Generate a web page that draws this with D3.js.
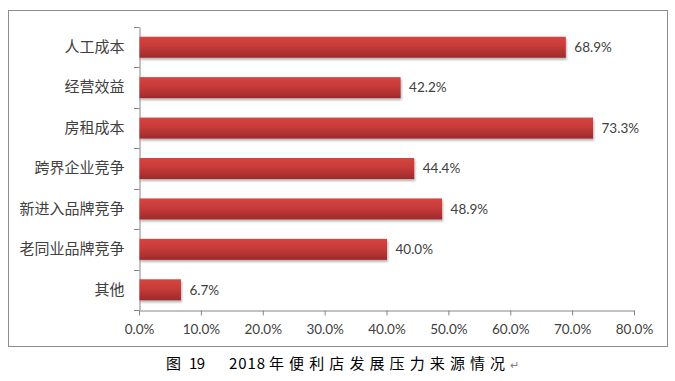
<!DOCTYPE html>
<html>
<head>
<meta charset="utf-8">
<script src="https://cdn.jsdelivr.net/npm/d3@7"></script>
<style>
  body { margin: 0; background: #fff; }
</style>
</head>
<body>
<svg id="chart" width="675" height="381"></svg>
<script>
// data
const categories = ["人工成本", "经营效益", "房租成本", "跨界企业竞争", "新进入品牌竞争", "老同业品牌竞争", "其他"];
const values = [68.9, 42.2, 73.3, 44.4, 48.9, 40.0, 6.7];
const xTicks = [0, 10, 20, 30, 40, 50, 60, 70, 80];
const captionParts = ["图", "19", "2018", "年便利店发展压力来源情况"];

const svg = d3.select("#chart");

// outer frame
svg.append("rect")
  .attr("x", 8.5).attr("y", 10.5)
  .attr("width", 659).attr("height", 336)
  .attr("fill", "none")
  .attr("stroke", "#8c8c8c")
  .attr("stroke-width", 1);

const defs = svg.append("defs");
const grad = defs.append("linearGradient")
  .attr("id", "barGrad")
  .attr("x1", 0).attr("y1", 0).attr("x2", 0).attr("y2", 1);
grad.append("stop").attr("offset", "0%").attr("stop-color", "#d64541");
grad.append("stop").attr("offset", "45%").attr("stop-color", "#c63b39");
grad.append("stop").attr("offset", "100%").attr("stop-color", "#9e2a2a");

const shadow = defs.append("filter").attr("id", "shadow")
  .attr("x", "-5%").attr("y", "-20%").attr("width", "115%").attr("height", "160%");
shadow.append("feDropShadow")
  .attr("dx", 1).attr("dy", 2).attr("stdDeviation", 1.2)
  .attr("flood-color", "#000").attr("flood-opacity", 0.3);

const x = d3.scaleLinear().domain([0, 80]).range([139, 634]);
const y = d3.scaleBand().domain(categories).range([27, 310]).paddingInner(0.48).paddingOuter(0.24);

// x axis
const xAxis = svg.append("g")
  .attr("transform", "translate(0,310.5)")
  .call(d3.axisBottom(x).tickValues(xTicks).tickSize(5).tickSizeOuter(0)
    .tickFormat(d => d.toFixed(1) + "%"));
xAxis.select(".domain").attr("stroke", "#868686");
xAxis.selectAll(".tick line").attr("stroke", "#868686");
xAxis.selectAll(".tick text")
  .attr("y", 14)
  .attr("fill", "#404040")
  .style("font-family", "Lato, 'Open Sans', sans-serif")
  .style("font-size", "13.5px");

// y axis
const yAxis = svg.append("g")
  .attr("transform", "translate(139.5,0)")
  .call(d3.axisLeft(y).tickSize(0).tickPadding(15));
yAxis.select(".domain").attr("stroke", "#868686");
yAxis.selectAll(".tick text")
  .attr("fill", "#404040")
  .style("font-family", "'Noto Sans CJK SC', serif")
  .style("font-size", "15px");

// category separator ticks on y axis
const edges = d3.range(categories.length + 1).map(i => 27 + i * (283 / categories.length));
svg.append("g").selectAll("line")
  .data(edges)
  .enter().append("line")
  .attr("x1", 134).attr("x2", 139.5)
  .attr("y1", d => Math.round(d) + 0.5).attr("y2", d => Math.round(d) + 0.5)
  .attr("stroke", "#868686");

// bars
svg.append("g").selectAll("rect")
  .data(values)
  .enter().append("rect")
  .attr("x", x(0) + 0.5)
  .attr("y", (d, i) => y(categories[i]))
  .attr("width", d => x(d) - x(0))
  .attr("height", y.bandwidth())
  .attr("fill", "url(#barGrad)")
  .attr("filter", "url(#shadow)");

// value labels
svg.append("g").selectAll("text")
  .data(values)
  .enter().append("text")
  .attr("x", d => x(d) + 9)
  .attr("y", (d, i) => y(categories[i]) + y.bandwidth() / 2)
  .attr("dy", "0.35em")
  .attr("fill", "#404040")
  .style("font-family", "Lato, 'Open Sans', sans-serif")
  .style("font-size", "13.5px")
  .text(d => d.toFixed(1) + "%");

// caption (word-style spacing)
const capX = [166, 189, 229, 269];
const capLen = [null, 16, 36, null];
const cap = svg.append("text")
  .attr("y", 369)
  .attr("fill", "#000")
  .style("font-family", "'Noto Sans CJK SC', serif")
  .style("font-size", "15px");
captionParts.forEach((s, i) => {
  const t = cap.append("tspan").attr("x", capX[i]).text(s);
  if (capLen[i]) t.attr("textLength", capLen[i]).attr("lengthAdjust", "spacing");
  if (i === 3) t.style("letter-spacing", "5.1px");
});
cap.append("tspan")
  .attr("x", 510)
  .attr("fill", "#7f7f7f")
  .style("font-size", "11px")
  .text("↵");
</script>
</body>
</html>
